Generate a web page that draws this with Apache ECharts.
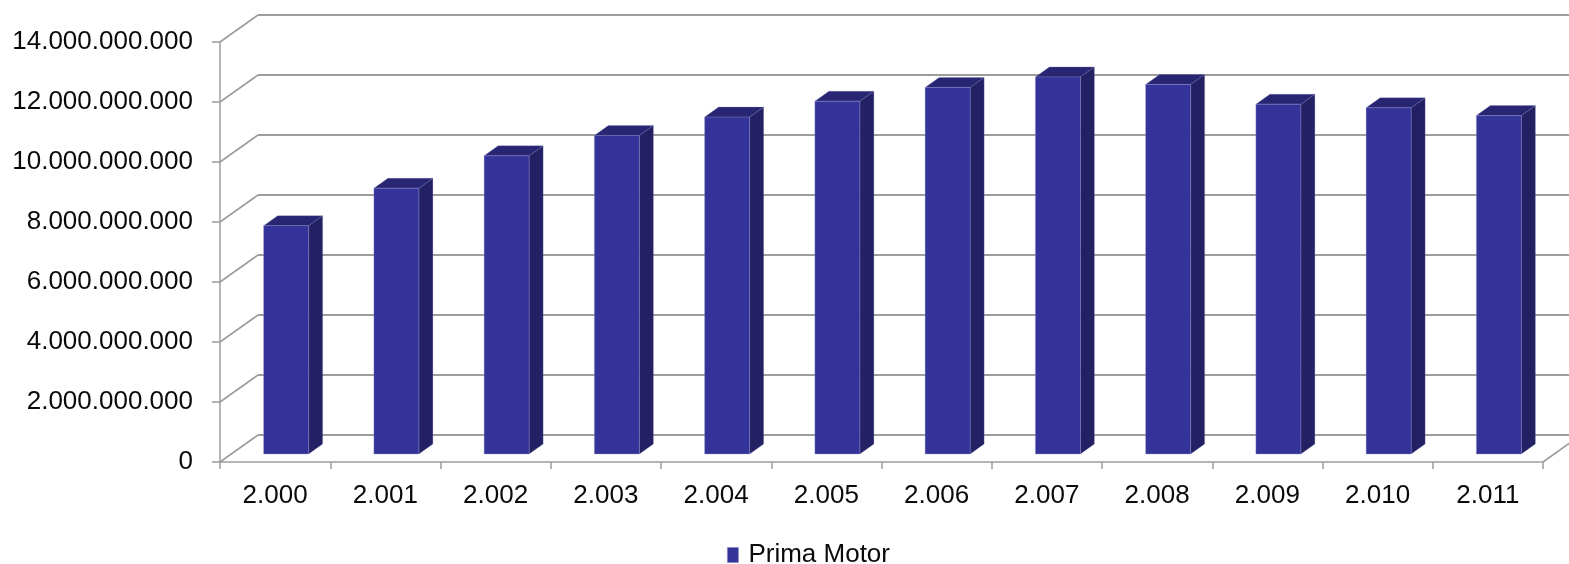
<!DOCTYPE html>
<html>
<head>
<meta charset="utf-8">
<title>Prima Motor</title>
<script src="https://cdn.jsdelivr.net/npm/echarts@6/dist/echarts.min.js"></script>
<style>
  html, body { margin: 0; padding: 0; background: #ffffff; }
  #chart { width: 1569px; height: 564px; }
</style>
</head>
<body>
<div id="chart"></div>
<script>
// Years shown on the category axis
const years = ['2.000', '2.001', '2.002', '2.003', '2.004', '2.005', '2.006', '2.007', '2.008', '2.009', '2.010', '2.011'];
// Prima Motor yearly totals
const primaMotor = [7.61e9, 8.86e9, 9.94e9, 10.62e9, 11.23e9, 11.76e9, 12.22e9, 12.57e9, 12.32e9, 11.66e9, 11.54e9, 11.28e9];
// Value axis ticks
const yTicks = [0, 2e9, 4e9, 6e9, 8e9, 10e9, 12e9, 14e9];
const yMax = 14e9;
const yStep = 2e9;

// Perspective offsets for the pseudo-3D box
const DEPTH = [38, -27];      // front plane -> back wall
const BAR_SHIFT = [11, -8];   // front plane -> bar front face
const BAR_DEPTH = [14, -10];  // bar front face -> bar back face
const BAR_WIDTH = 45;

const FRONT_FACE = '#333399';
const SIDE_FACE = '#232163';
const TOP_FACE = '#282673';
const GRID_GRAY = '#9d9d9d';
const TEXT = '#0a0a0a';
const FONT = '"Liberation Sans", Arial, sans-serif';

function dotted(n) {
  return String(Math.round(n)).replace(/\B(?=(\d{3})+(?!\d))/g, '.');
}

const chart = echarts.init(document.getElementById('chart'), null, { renderer: 'canvas' });

chart.setOption({
  animation: false,
  backgroundColor: '#ffffff',
  legend: {
    left: 727,
    top: 542,
    padding: 0,
    icon: 'rect',
    itemWidth: 11,
    itemHeight: 15,
    itemGap: 10,
    data: ['Prima Motor'],
    itemStyle: { borderColor: '#8a8ac0', borderWidth: 0.8 },
    textStyle: { fontFamily: FONT, fontSize: 26, color: TEXT, padding: [0, 0, 0, 5] }
  },
  grid: [
    // front plane: axes and labels
    { left: 220, top: 42, width: 1323, height: 420, containLabel: false },
    // back wall: horizontal gridlines
    { left: 258, top: 15, width: 1323, height: 420, containLabel: false }
  ],
  xAxis: [
    {
      type: 'category', gridIndex: 0, data: years, boundaryGap: true,
      axisLine: { show: true, lineStyle: { color: GRID_GRAY, width: 1.5 } },
      axisTick: { show: true, alignWithLabel: false, length: 7, lineStyle: { color: GRID_GRAY, width: 1.5 } },
      axisLabel: { fontFamily: FONT, fontSize: 26, color: TEXT, margin: 21 },
      splitLine: { show: false }
    },
    {
      type: 'category', gridIndex: 1, data: years, show: false
    }
  ],
  yAxis: [
    {
      type: 'value', gridIndex: 0, min: 0, max: yMax, interval: yStep,
      axisLine: { show: true, lineStyle: { color: GRID_GRAY, width: 1.5 } },
      axisTick: { show: true, length: 8, lineStyle: { color: GRID_GRAY, width: 1.5 } },
      axisLabel: { fontFamily: FONT, fontSize: 26, color: TEXT, margin: 27, formatter: dotted },
      splitLine: { show: false }
    },
    {
      type: 'value', gridIndex: 1, min: 0, max: yMax, interval: yStep,
      axisLine: { show: false }, axisTick: { show: false }, axisLabel: { show: false },
      splitLine: { show: true, lineStyle: { color: GRID_GRAY, width: 1.8 } }
    }
  ],
  series: [
    {
      // side-wall and floor edges joining the front axis to the back wall
      type: 'custom',
      name: 'edges',
      xAxisIndex: 0, yAxisIndex: 0,
      silent: true,
      clip: false,
      z: 1,
      data: yTicks.map(v => [0, v, 0]).concat([[0, 0, 1]]),
      renderItem: function (params, api) {
        const cs = params.coordSys;
        const y = api.coord([0, api.value(1)])[1];
        const x = api.value(2) === 1 ? cs.x + cs.width : cs.x;
        return {
          type: 'line',
          shape: { x1: x, y1: y, x2: x + DEPTH[0], y2: y + DEPTH[1] },
          style: { stroke: GRID_GRAY, lineWidth: 1.6 }
        };
      }
    },
    {
      type: 'custom',
      name: 'Prima Motor',
      xAxisIndex: 0, yAxisIndex: 0,
      clip: false,
      z: 3,
      itemStyle: { color: FRONT_FACE },
      encode: { x: 0, y: 1 },
      data: primaMotor.map((v, i) => [i, v]),
      renderItem: function (params, api) {
        const i = api.value(0);
        const base = api.coord([i, 0]);
        const top = api.coord([i, api.value(1)]);
        const cx = base[0] + BAR_SHIFT[0];
        const x0 = cx - BAR_WIDTH / 2;
        const x1 = cx + BAR_WIDTH / 2;
        const yb = base[1] + BAR_SHIFT[1];
        const yt = top[1] + BAR_SHIFT[1];
        const dx = BAR_DEPTH[0], dy = BAR_DEPTH[1];
        return {
          type: 'group',
          children: [
            {
              type: 'polygon',
              shape: { points: [[x1, yt], [x1 + dx, yt + dy], [x1 + dx, yb + dy], [x1, yb]] },
              style: { fill: SIDE_FACE, stroke: 'rgba(120,120,180,0.35)', lineWidth: 0.8 }
            },
            {
              type: 'polygon',
              shape: { points: [[x0, yt], [x0 + dx, yt + dy], [x1 + dx, yt + dy], [x1, yt]] },
              style: { fill: TOP_FACE, stroke: 'rgba(120,120,180,0.35)', lineWidth: 0.8 }
            },
            {
              type: 'rect',
              shape: { x: x0, y: yt, width: BAR_WIDTH, height: yb - yt },
              style: { fill: FRONT_FACE, stroke: 'rgba(150,150,210,0.45)', lineWidth: 0.8 }
            }
          ]
        };
      }
    }
  ]
});
</script>
</body>
</html>
